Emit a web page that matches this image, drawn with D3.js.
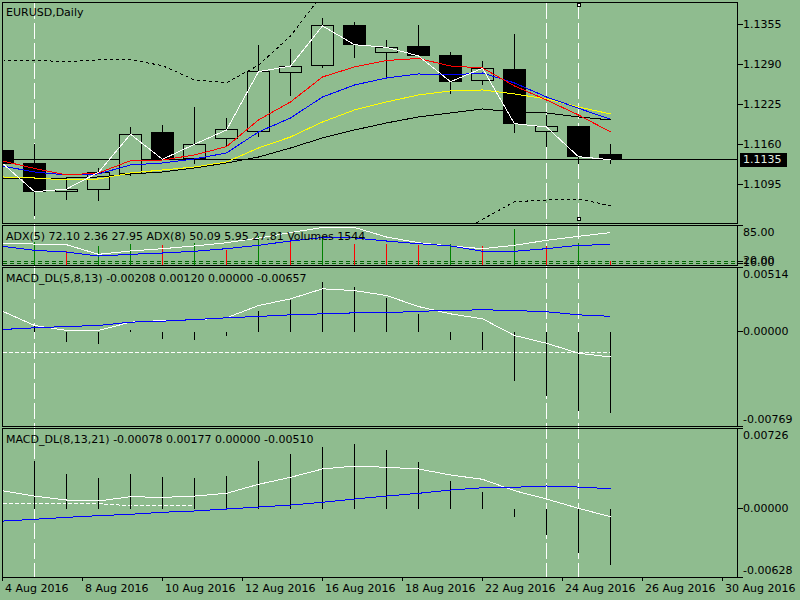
<!DOCTYPE html>
<html>
<head>
<meta charset="utf-8">
<script src="https://cdn.jsdelivr.net/npm/d3@7"></script>
<style>
body { margin: 0; background: #8fbc8f; overflow: hidden; }
svg text { font-family: "DejaVu Sans", sans-serif; font-size: 11px; fill: #000; }
</style>
</head>
<body>
<div id="chart"></div>
<script>
var svgWidth = 800;
var svgHeight = 600;
var bg = "#8fbc8f";

// EURUSD daily bars, 3 Aug .. 30 Aug 2016
var opens  = [1.11492, 1.11280, 1.10828, 1.10867, 1.11128, 1.11786, 1.11373, 1.11700, 1.11807, 1.12778,
              1.12892, 1.13534, 1.13104, 1.13191, 1.13044, 1.12647, 1.12831, 1.11814, 1.11900, 1.11427];
var highs  = [1.11541, 1.11607, 1.11072, 1.11219, 1.11889, 1.11917, 1.12216, 1.12031, 1.13223, 1.13158,
              1.13669, 1.13599, 1.13305, 1.13550, 1.13114, 1.12978, 1.13408, 1.12080, 1.11900, 1.11607];
var lows   = [1.11264, 1.10431, 1.10703, 1.10680, 1.11100, 1.11345, 1.11291, 1.11562, 1.11726, 1.12395,
              1.12853, 1.13016, 1.12696, 1.13036, 1.12423, 1.12582, 1.11791, 1.11562, 1.11291, 1.11280];
var closes = [1.11291, 1.10828, 1.10870, 1.11144, 1.11765, 1.11357, 1.11602, 1.11835, 1.12787, 1.12880,
              1.13534, 1.13228, 1.13186, 1.13044, 1.12624, 1.12843, 1.11938, 1.11884, 1.11399, 1.11350];

// moving averages on the price window
var maRed    = [1.11329, 1.11207, 1.11100, 1.11133, 1.11334, 1.11345, 1.11427, 1.11563, 1.11999, 1.12293,
                1.12701, 1.12864, 1.12970, 1.13003, 1.12880, 1.12848, 1.12554, 1.12325, 1.12080, 1.11803];
var maBlue   = [1.11247, 1.11149, 1.11100, 1.11117, 1.11264, 1.11296, 1.11362, 1.11460, 1.11803, 1.12031,
                1.12374, 1.12570, 1.12684, 1.12750, 1.12733, 1.12766, 1.12603, 1.12374, 1.12190, 1.12010];
var maYellow = [1.11068, 1.11051, 1.11019, 1.11035, 1.11133, 1.11182, 1.11231, 1.11313, 1.11541, 1.11721,
                1.11966, 1.12162, 1.12293, 1.12407, 1.12472, 1.12489, 1.12423, 1.12342, 1.12211, 1.12097];
var maBlack  = [1.11051, 1.11051, 1.11051, 1.11068, 1.11117, 1.11149, 1.11215, 1.11296, 1.11394, 1.11541,
                1.11705, 1.11835, 1.11950, 1.12048, 1.12113, 1.12178, 1.12129, 1.12113, 1.12048, 1.11999];
var bandUpper = [1.12978, 1.12973, 1.12951, 1.12978, 1.12983, 1.12885, 1.12652, 1.12608, 1.12892, 1.13370,
                 1.14056, null, null, null, null, null, null, null, null, null];
var bandLower = [null, null, null, null, null, null, null, null, null, null,
                 null, null, null, null, 1.10078, 1.10375, 1.10664, 1.10692, 1.10708, 1.10599];

// ADX / volumes window
var adx5 = [51.8, 51.2, 50.0, 32.4, 38.5, 42.7, 47.6, 53.6, 62.0, 72.0,
            81.5, 81.4, 64.0, 53.6, 47.6, 42.7, 48.9, 58.0, 65.3, 72.10];
var adx8 = [47.0, 39.7, 36.6, 29.3, 32.4, 34.8, 37.9, 42.7, 48.9, 56.7,
            63.1, 62.2, 56.7, 51.8, 47.6, 37.9, 37.9, 42.7, 48.9, 50.09];
var volumes = [7000, 7870, 4940, 6340, 7090, 6760, 7410, 5140, 9820, 8190,
               9260, 7090, 7060, 6760, 7090, 6340, 11960, 6340, 7410, 1544];
var adxLevels = [20, 16];

// MACD_DL(5,8,13)
var macd1Hist  = [0.00120, 0.00054, -0.00081, -0.00097, 0.00014, -0.00056, -0.00067, -0.00035, 0.00167, 0.00256,
                  0.00401, 0.00361, 0.00274, 0.00145, -0.00065, -0.00145, -0.00398, -0.00519, -0.00640, -0.00657];
var macd1Main  = [0.00161, 0.00046, 0.00006, 0.00006, 0.00073, 0.00086, 0.00092, 0.00108, 0.00207, 0.00261,
                  0.00342, 0.00328, 0.00288, 0.00199, 0.00140, 0.00100, -0.00035, -0.00097, -0.00178, -0.00208];
var macd1Sig   = [0.00014, 0.00027, 0.00038, 0.00046, 0.00073, 0.00081, 0.00094, 0.00108, 0.00119, 0.00132,
                  0.00140, 0.00148, 0.00148, 0.00161, 0.00167, 0.00173, 0.00167, 0.00157, 0.00132, 0.00120];
var macd1Dash  = [-0.00170, -0.00170, -0.00170, -0.00170, -0.00170, -0.00170, -0.00170, -0.00170, -0.00170, -0.00170,
                  -0.00170, -0.00170, -0.00170, -0.00170, -0.00170, -0.00170, -0.00170, -0.00170, -0.00170, -0.00170];

// MACD_DL(8,13,21)
var macd2Hist  = [0.00400, 0.00432, 0.00317, 0.00277, 0.00317, 0.00284, 0.00277, 0.00293, 0.00432, 0.00500,
                  0.00566, 0.00591, 0.00530, 0.00429, 0.00256, 0.00156, -0.00078, -0.00245, -0.00407, -0.00510];
var macd2Main  = [0.00159, 0.00110, 0.00074, 0.00065, 0.00104, 0.00098, 0.00110, 0.00135, 0.00217, 0.00281,
                  0.00357, 0.00384, 0.00372, 0.00357, 0.00302, 0.00263, 0.00159, 0.00083, -0.00002, -0.00078];
var macd2Sig   = [-0.00118, -0.00102, -0.00084, -0.00069, -0.00056, -0.00038, -0.00026, -0.00008, 0.00010, 0.00028,
                  0.00053, 0.00083, 0.00110, 0.00135, 0.00165, 0.00186, 0.00190, 0.00202, 0.00192, 0.00177];
var macd2Dash  = [0.00044, 0.00044, 0.00044, 0.00040, 0.00022, 0.00022, 0.00022, null, null, null,
                  null, null, null, null, null, null, null, null, null, null];

// axis ticks
var priceTicks = [1.1355, 1.1290, 1.1225, 1.1160, 1.1095];
var macd1Ticks = [0.00514, 0.00000, -0.00769];
var macd2Ticks = [0.00726, 0.00000, -0.00628];
var adxTicks = [85];
var dateTickIdx = [0, 2.5, 5, 7.5, 10, 12.5, 15, 17.5, 20, 22.5];
var dateLabels = ["4 Aug 2016", "8 Aug 2016", "10 Aug 2016", "12 Aug 2016", "16 Aug 2016",
                  "18 Aug 2016", "22 Aug 2016", "24 Aug 2016", "26 Aug 2016", "30 Aug 2016"];
var vLineIdx = [1, 17, 18];

var left = 2.5, right = 737.5;
var panels = {
  main:  { top: 2.5,   bottom: 223.5 },
  adx:   { top: 225.5, bottom: 265.5 },
  macd1: { top: 267.5, bottom: 426.5 },
  macd2: { top: 428.5, bottom: 577 }
};

var x = d3.scaleLinear().domain([0, 23]).range([2.5, 738.5]);
var yPrice = d3.scaleLinear().domain([1.10308, 1.13917]).range([223.5, 2.5]);
var yAdx = d3.scaleLinear().domain([12, 85]).range([265.5, 225.5]);
var yVol = d3.scaleLinear().domain([0, 13000]).range([265.5, 225.5]);
var yM1 = d3.scaleLinear().domain([-0.00769, 0.00514]).range([426.5, 267.5]);
var yM2 = d3.scaleLinear().domain([-0.00628, 0.00726]).range([577, 428.5]);

function snap(v) { return Math.floor(v) + 0.5; }

var svg = d3.select("#chart")
  .append("svg")
  .attr("width", svgWidth)
  .attr("height", svgHeight)
  .attr("shape-rendering", "crispEdges");

svg.append("rect").attr("width", svgWidth).attr("height", svgHeight).attr("fill", bg);

var defs = svg.append("defs");
Object.keys(panels).forEach(function(k) {
  defs.append("clipPath").attr("id", "clip-" + k)
    .append("rect")
    .attr("x", left).attr("y", panels[k].top)
    .attr("width", right - left).attr("height", panels[k].bottom - panels[k].top);
});

function panelGroup(name) {
  return svg.append("g").attr("clip-path", `url(#clip-${name})`);
}

function lineGen(scale) {
  return d3.line()
    .defined(d => d != null)
    .x((d, i) => x(i))
    .y(d => scale(d));
}

function drawLine(g, data, scale, color, dash) {
  var p = g.append("path")
    .datum(data)
    .attr("d", lineGen(scale))
    .attr("fill", "none")
    .attr("stroke", color)
    .attr("stroke-width", 1);
  if (dash) p.attr("stroke-dasharray", dash);
  return p;
}

// vertical dashed lines, behind everything
svg.selectAll("line.vline")
  .data(vLineIdx)
  .enter()
  .append("line")
  .attr("x1", d => x(d)).attr("x2", d => x(d))
  .attr("y1", panels.main.top).attr("y2", panels.macd2.bottom)
  .attr("stroke", "#fff")
  .attr("stroke-dasharray", "16,4");

// ---- main price window ----
var gMain = panelGroup("main");
var lastClose = closes[closes.length - 1];

gMain.append("line")
  .attr("x1", left).attr("x2", right)
  .attr("y1", snap(yPrice(lastClose))).attr("y2", snap(yPrice(lastClose)))
  .attr("stroke", "#000");

gMain.selectAll("line.wick")
  .data(opens)
  .enter()
  .append("line")
  .attr("x1", (d, i) => x(i)).attr("x2", (d, i) => x(i))
  .attr("y1", (d, i) => snap(yPrice(highs[i])))
  .attr("y2", (d, i) => snap(yPrice(lows[i])))
  .attr("stroke", "#000");

gMain.selectAll("rect.body")
  .data(opens)
  .enter()
  .append("rect")
  .attr("x", (d, i) => x(i) - 11)
  .attr("width", 22)
  .attr("y", (d, i) => snap(yPrice(Math.max(d, closes[i]))))
  .attr("height", (d, i) => Math.max(1, snap(yPrice(Math.min(d, closes[i]))) - snap(yPrice(Math.max(d, closes[i])))))
  .attr("fill", (d, i) => closes[i] < d ? "#000" : bg)
  .attr("stroke", "#000");

drawLine(gMain, maBlack, yPrice, "#000");
drawLine(gMain, maYellow, yPrice, "#ffff00");
drawLine(gMain, maBlue, yPrice, "#0000ff");
drawLine(gMain, maRed, yPrice, "#ff0000");
drawLine(gMain, closes, yPrice, "#fff");
drawLine(gMain, bandUpper, yPrice, "#000", "3,3");
drawLine(gMain, bandLower, yPrice, "#000", "3,3");

// ---- ADX + volumes ----
var gAdx = panelGroup("adx");
gAdx.selectAll("line.level")
  .data(adxLevels)
  .enter()
  .append("line")
  .attr("x1", left).attr("x2", right)
  .attr("y1", d => snap(yAdx(d))).attr("y2", d => snap(yAdx(d)))
  .attr("stroke", "#006400")
  .attr("stroke-dasharray", "4,3");

gAdx.selectAll("line.vol")
  .data(volumes)
  .enter()
  .append("line")
  .attr("x1", (d, i) => x(i)).attr("x2", (d, i) => x(i))
  .attr("y1", yVol(0))
  .attr("y2", d => snap(yVol(d)))
  .attr("stroke", (d, i) => (i === 0 || d > volumes[i - 1]) ? "#008000" : "#ff0000");

drawLine(gAdx, adx5, yAdx, "#fff");
drawLine(gAdx, adx8, yAdx, "#0000ff");

// ---- MACD windows ----
function drawMacd(name, scale, hist, main, sig, dash) {
  var g = panelGroup(name);
  drawLine(g, dash, scale, "#fff", "4,2");
  g.selectAll("line.hist")
    .data(hist)
    .enter()
    .append("line")
    .attr("x1", (d, i) => x(i)).attr("x2", (d, i) => x(i))
    .attr("y1", snap(scale(0)))
    .attr("y2", d => snap(scale(d)))
    .attr("stroke", "#000");
  drawLine(g, main, scale, "#fff");
  drawLine(g, sig, scale, "#0000ff");
}
drawMacd("macd1", yM1, macd1Hist, macd1Main, macd1Sig, macd1Dash);
drawMacd("macd2", yM2, macd2Hist, macd2Main, macd2Sig, macd2Dash);

// ---- panel frames ----
Object.keys(panels).forEach(function(k) {
  svg.append("rect")
    .attr("x", left).attr("y", panels[k].top)
    .attr("width", right - left).attr("height", panels[k].bottom - panels[k].top)
    .attr("fill", "none")
    .attr("stroke", "#000");
});

// ---- right axes ----
function drawAxis(scale, ticks, digits, panel, clamp) {
  var g = svg.append("g");
  ticks.forEach(function(v) {
    var y = snap(scale(v));
    g.append("line")
      .attr("x1", right).attr("x2", right + 5)
      .attr("y1", y).attr("y2", y)
      .attr("stroke", "#000");
    var ty = clamp ? Math.min(Math.max(y, panel.top + 7), panel.bottom - 7) : y - 1;
    g.append("text")
      .attr("x", right + 5.5)
      .attr("y", ty)
      .attr("dy", "0.36em")
      .text(v.toFixed(digits));
  });
}
drawAxis(yPrice, priceTicks, 4, panels.main, true);
drawAxis(yAdx, adxTicks, 2, panels.adx, true);
drawAxis(yAdx, adxLevels, 2, panels.adx, false);
drawAxis(yM1, macd1Ticks, 5, panels.macd1, true);
drawAxis(yM2, macd2Ticks, 5, panels.macd2, true);

// current price tag
var yc = snap(yPrice(lastClose));
svg.append("rect")
  .attr("x", 740).attr("y", yc - 7)
  .attr("width", 47).attr("height", 14)
  .attr("fill", "#000");
svg.append("text")
  .attr("x", right + 5.5)
  .attr("y", yc)
  .attr("dy", "0.36em")
  .style("fill", "#e0eee0")
  .text(lastClose.toFixed(4));

// ---- date axis ----
dateTickIdx.forEach(function(t, j) {
  var xt = snap(x(t));
  svg.append("line")
    .attr("x1", xt).attr("x2", xt)
    .attr("y1", panels.macd2.bottom).attr("y2", panels.macd2.bottom + 4)
    .attr("stroke", "#000");
  svg.append("text")
    .attr("x", xt + 2.5)
    .attr("y", 588.5)
    .attr("dy", "0.36em")
    .text(dateLabels[j]);
});

// ---- window titles ----
function last(a) { return a[a.length - 1]; }
var titles = [
  { y: 11.7, text: "EURUSD,Daily" },
  { y: 236.5, text: `ADX(5) ${last(adx5).toFixed(2)} 2.36 27.95 ADX(8) ${last(adx8).toFixed(2)} 5.95 27.81 Volumes ${last(volumes)}` },
  { y: 278.3, text: `MACD_DL(5,8,13) ${last(macd1Main).toFixed(5)} ${last(macd1Sig).toFixed(5)} 0.00000 ${last(macd1Hist).toFixed(5)}` },
  { y: 439.5, text: `MACD_DL(8,13,21) ${last(macd2Main).toFixed(5)} ${last(macd2Sig).toFixed(5)} 0.00000 ${last(macd2Hist).toFixed(5)}` }
];
svg.selectAll("text.title")
  .data(titles)
  .enter()
  .append("text")
  .attr("x", 6)
  .attr("y", d => d.y)
  .attr("dy", "0.36em")
  .text(d => d.text);

// selection handles of the selected vertical line
svg.selectAll("rect.handle")
  .data([5, 219])
  .enter()
  .append("rect")
  .attr("x", x(18) - 1.5)
  .attr("y", d => d - 1.5)
  .attr("width", 3).attr("height", 3)
  .attr("fill", "#fff")
  .attr("stroke", "#000");
</script>
</body>
</html>
